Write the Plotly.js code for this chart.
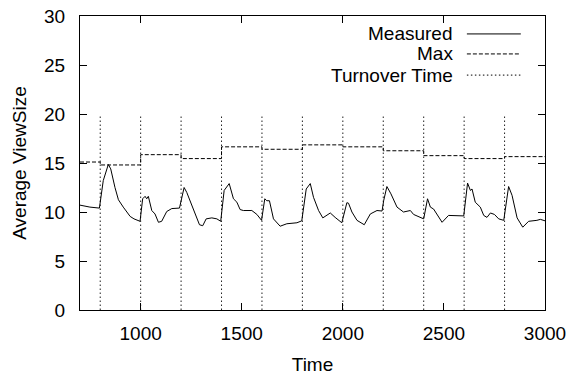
<!DOCTYPE html>
<html>
<head>
<meta charset="utf-8">
<script src="https://cdn.plot.ly/plotly-3.0.1.min.js"></script>
<style>html,body{margin:0;padding:0;background:#fff;}#chart{width:568px;height:375px;}</style>
</head>
<body>
<div id="chart"></div>
<script>
// Measured average view size
var measuredTime = [700,749,796,815,840,852,873,890,914,931,948,967,997,1010,1022,1030,1038,1055,1071,1088,1104,1129,1154,1192,1215,1228,1245,1261,1278,1291,1307,1324,1352,1377,1396,1413,1438,1451,1459,1476,1492,1508,1550,1575,1598,1614,1624,1637,1657,1690,1723,1773,1797,1819,1839,1855,1880,1901,1921,1938,1962,1995,2020,2028,2045,2070,2106,2136,2169,2194,2202,2218,2238,2268,2300,2334,2350,2400,2419,2433,2449,2491,2523,2565,2598,2617,2631,2639,2655,2680,2697,2713,2730,2750,2771,2796,2820,2837,2862,2890,2919,2960,2977,3000];
var measuredValue = [10.7,10.5,10.4,13.2,14.85,14.4,12.5,11.25,10.5,10.05,9.55,9.3,9.05,11.35,11.6,11.35,11.6,10.15,9.8,8.95,9.05,10.05,10.35,10.4,12.5,12.0,11.15,10.15,9.3,8.7,8.6,9.3,9.4,9.3,9.05,12.2,12.9,11.85,11.35,11.0,10.25,10.15,10.15,9.75,9.15,11.35,11.15,11.15,9.3,8.55,8.8,8.9,9.1,12.35,12.9,11.5,10.15,9.4,9.65,9.9,9.45,8.9,10.95,10.9,10.0,9.15,8.7,9.8,10.15,10.1,11.15,12.6,11.85,10.5,10.0,10.15,9.75,9.3,11.35,10.5,10.3,8.95,9.65,9.65,9.6,12.95,12.2,12.35,11.0,10.5,9.65,9.45,9.9,9.75,9.3,9.15,12.6,11.7,9.4,8.45,9.05,9.15,9.25,9.1];

// Max view size, stepwise per turnover period
var maxTime = [700,800,1000,1200,1400,1600,1800,2000,2200,2400,2600,2800,3000];
var maxValue = [15.1,14.8,15.85,15.45,16.65,16.4,16.85,16.65,16.25,15.75,15.45,15.65,15.65];

// Turnover times (vertical markers)
var turnoverTimes = [800,1000,1200,1400,1600,1800,2000,2200,2400,2600,2800];
var turnoverHeight = 20;

// Axis ticks
var xTicks = [1000,1500,2000,2500,3000];
var yTicks = [0,5,10,15,20,25,30];

// Legend labels
var legendLabels = ["Measured","Max","Turnover Time"];
var legendDash = ["solid","4px,2px","1.5px,2.5px"];

var tx = [], ty = [];
turnoverTimes.forEach(function(t){ tx.push(t,t,null); ty.push(0,turnoverHeight,null); });

var font = "Liberation Sans, Arial, sans-serif";
var fs = 19;

var traces = [
  {x: tx, y: ty, mode: "lines", line: {color: "#222", width: 1, dash: legendDash[2]}, hoverinfo: "skip", name: legendLabels[2]},
  {x: maxTime, y: maxValue, mode: "lines", line: {color: "#000", width: 1, dash: legendDash[1], shape: "hv"}, name: legendLabels[1]},
  {x: measuredTime, y: measuredValue, mode: "lines", line: {color: "#000", width: 1}, name: legendLabels[0]}
];

var annotations = [], shapes = [];
var rowY = [0.939, 0.871, 0.799];
legendLabels.forEach(function(lab, i){
  annotations.push({xref: "paper", yref: "paper", x: 0.806, y: rowY[i], xanchor: "right", yanchor: "middle",
    text: lab, showarrow: false, font: {family: font, size: fs, color: "#000"}});
  shapes.push({type: "line", xref: "paper", yref: "paper", x0: 0.832, x1: 0.948, y0: rowY[i], y1: rowY[i],
    line: {color: "#000", width: 1, dash: legendDash[i]}});
});

var layout = {
  width: 568, height: 375,
  margin: {l: 80, r: 23, t: 16, b: 65},
  paper_bgcolor: "#fff", plot_bgcolor: "#fff",
  showlegend: false,
  font: {family: font, size: fs, color: "#000"},
  xaxis: {range: [700, 3000], tickvals: xTicks, ticks: "inside", ticklen: 7, tickcolor: "#000",
    showline: true, linecolor: "#000", linewidth: 1, mirror: "ticks", showgrid: false, zeroline: false,
    ticklabelstandoff: 6,
    title: {text: "Time", font: {family: font, size: fs}, standoff: 14}},
  yaxis: {range: [0, 30], tickvals: yTicks, ticks: "inside", ticklen: 7, tickcolor: "#000",
    showline: true, linecolor: "#000", linewidth: 1, mirror: "ticks", showgrid: false, zeroline: false,
    ticklabelstandoff: 10,
    title: {text: "Average ViewSize", font: {family: font, size: fs}, standoff: 12}},
  annotations: annotations,
  shapes: shapes
};

Plotly.newPlot("chart", traces, layout, {displayModeBar: false, staticPlot: true});
</script>
</body>
</html>
